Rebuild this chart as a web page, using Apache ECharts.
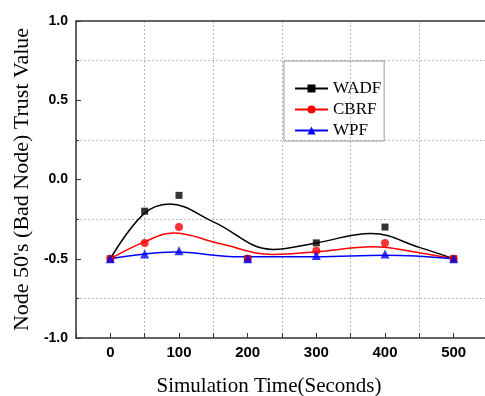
<!DOCTYPE html>
<html>
<head>
<meta charset="utf-8">
<script src="https://cdn.jsdelivr.net/npm/echarts@6/dist/echarts.min.js"></script>
<style>
  html, body { margin: 0; padding: 0; background: #fff; }
  #chart { width: 485px; height: 396px; }
</style>
</head>
<body>
<div id="chart"></div>
<script>
// measured points
const times = [0, 50, 100, 200, 300, 400, 500];
const wadf = [-0.5, -0.2, -0.1, -0.5, -0.4, -0.3, -0.5];
const cbrf = [-0.5, -0.4, -0.3, -0.5, -0.45, -0.4, -0.5];
const wpf = [-0.5, -0.47, -0.45, -0.5, -0.48, -0.47, -0.5];

// fitted curves
const wadfFitX = [0, 48, 86, 150, 237, 300, 380, 451, 500];
const wadfFitY = [-0.5, -0.22, -0.155, -0.267, -0.441, -0.40, -0.34, -0.43, -0.5];
const cbrfFitX = [0, 48, 92, 159, 237, 300, 382, 451, 500];
const cbrfFitY = [-0.5, -0.397, -0.337, -0.404, -0.473, -0.456, -0.425, -0.463, -0.5];
const wpfFitX = [0, 48, 92, 189, 300, 400, 500];
const wpfFitY = [-0.5, -0.471, -0.458, -0.487, -0.487, -0.478, -0.5];

const seriesNames = ['WADF', 'CBRF', 'WPF'];
const xTickLabels = ['0', '100', '200', '300', '400', '500'];

const pairs = (xs, ys) => xs.map((x, i) => [x, ys[i]]);

const chart = echarts.init(document.getElementById('chart'));

const axisColor = '#333';
const gridColor = '#b8b8b8';

function curve(name, color, symbol, xs, ys) {
  return {
    name: name,
    type: 'line',
    xAxisIndex: 0,
    smooth: 0.4,
    symbol: symbol,
    showSymbol: false,
    color: color,
    lineStyle: { color: color, width: 1.5 },
    data: pairs(xs, ys),
    z: 3
  };
}

function points(name, color, symbol, size, ys) {
  return {
    name: name,
    type: 'scatter',
    xAxisIndex: 0,
    symbol: symbol,
    symbolSize: size,
    itemStyle: { color: color },
    data: pairs(times, ys),
    z: 4
  };
}

const option = {
  backgroundColor: '#fff',
  animation: false,
  grid: { left: 76, top: 21, right: -3, bottom: 58, outerBoundsMode: 'none' },
  legend: {
    data: seriesNames,
    orient: 'vertical',
    left: 284,
    top: 61,
    padding: [19, 3, 2, 10],
    itemGap: 4,
    itemWidth: 33,
    itemHeight: 10,
    borderColor: '#999',
    borderWidth: 1,
    textStyle: { fontFamily: 'Liberation Serif', fontSize: 17, color: '#000' }
  },
  xAxis: [
    {
      type: 'value',
      position: 'bottom',
      min: -50,
      max: 550,
      interval: 50,
      name: 'Simulation Time(Seconds)',
      nameLocation: 'middle',
      nameGap: 38,
      nameTextStyle: { fontFamily: 'Liberation Serif', fontSize: 21, color: '#000', padding: [0, 26, 0, 0] },
      axisLine: { show: true, onZero: false, lineStyle: { color: axisColor, width: 1.5 } },
      axisTick: { show: true, inside: true, length: 5, lineStyle: { color: axisColor } },
      axisLabel: {
        margin: 7,
        fontFamily: 'Liberation Sans',
        fontWeight: 'bold',
        fontSize: 15,
        color: '#000',
        formatter: v => xTickLabels.includes(String(v)) ? String(v) : ''
      },
      splitLine: { show: false }
    },
    {
      // helper axis: top frame line and the dotted grid between labelled ticks
      type: 'value',
      position: 'top',
      min: 0,
      max: 600,
      interval: 100,
      axisLine: { show: true, onZero: false, lineStyle: { color: axisColor, width: 1.5 } },
      axisTick: { show: false },
      axisLabel: { show: false },
      splitLine: { show: true, lineStyle: { color: gridColor, type: [2, 2], width: 1 } }
    }
  ],
  yAxis: {
    type: 'value',
    min: -1,
    max: 1,
    interval: 0.5,
    name: "Node 50's (Bad Node) Trust Value",
    nameLocation: 'middle',
    nameGap: 32,
    nameTextStyle: { fontFamily: 'Liberation Serif', fontSize: 22, color: '#000' },
    axisLine: { show: true, onZero: false, lineStyle: { color: axisColor, width: 1.5 } },
    axisTick: { show: true, inside: true, length: 5, lineStyle: { color: axisColor } },
    minorTick: { show: true, splitNumber: 2, length: 3, lineStyle: { color: axisColor } },
    axisLabel: {
      margin: 8,
      fontFamily: 'Liberation Sans',
      fontWeight: 'bold',
      fontSize: 14,
      color: '#000',
      formatter: v => v.toFixed(1)
    },
    splitLine: { show: false },
    minorSplitLine: { show: true, lineStyle: { color: gridColor, type: [2, 2], width: 1 } }
  },
  series: [
    curve('WADF', '#000000', 'rect', wadfFitX, wadfFitY),
    points('WADF', '#000000', 'rect', 7, wadf),
    curve('CBRF', '#ff0000', 'circle', cbrfFitX, cbrfFitY),
    points('CBRF', '#ff0000', 'circle', 8, cbrf),
    curve('WPF', '#0000ff', 'triangle', wpfFitX, wpfFitY),
    points('WPF', '#0000ff', 'triangle', 9, wpf)
  ]
};

chart.setOption(option);
</script>
</body>
</html>
